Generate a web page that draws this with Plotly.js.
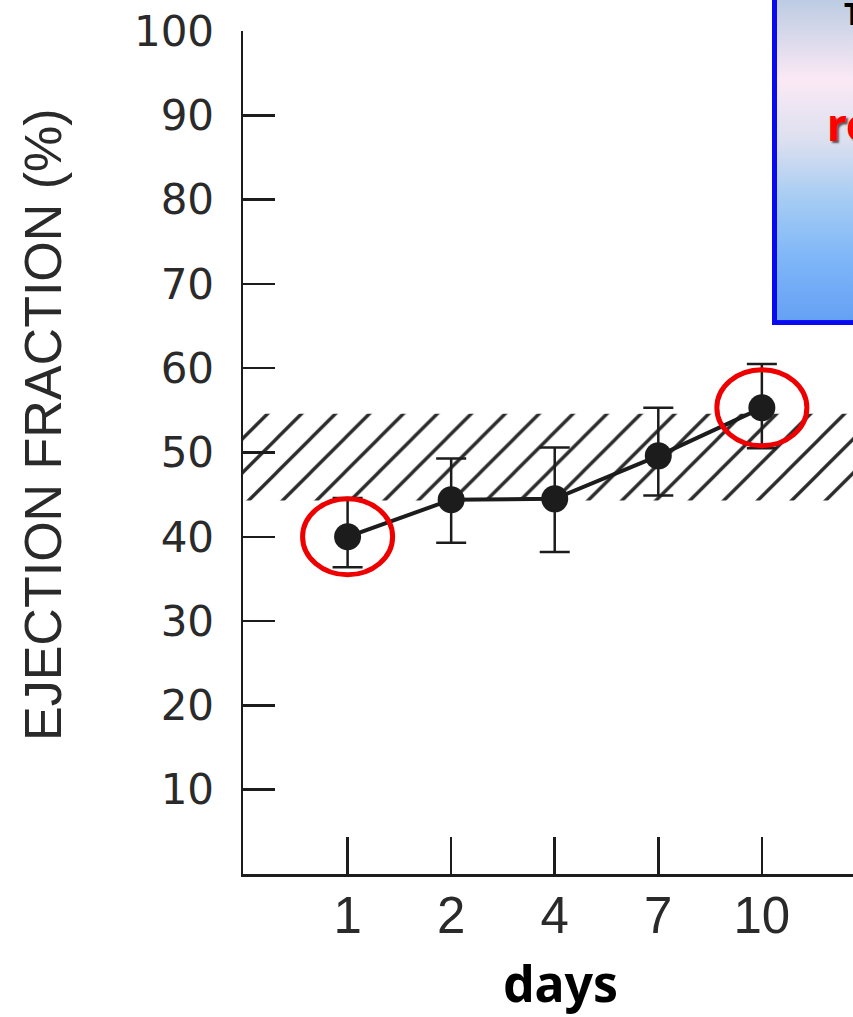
<!DOCTYPE html>
<html>
<head>
<meta charset="utf-8">
<script src="https://cdn.plot.ly/plotly-3.0.1.min.js"></script>
<style>
  html, body { margin: 0; padding: 0; background: #ffffff; }
  #chart { width: 853px; height: 1017px; }
</style>
</head>
<body>
<div id="chart"></div>
<script>
// ---- data ----
const days = ['1', '2', '4', '7', '10'];
const ejectionFraction = [40.0, 44.4, 44.5, 49.6, 55.3];
const errorPlus = [4.6, 4.9, 6.1, 5.7, 5.2];
const errorMinus = [3.6, 5.1, 6.3, 4.7, 4.8];
const normalRange = [44.3, 54.6];
const highlightedDays = ['1', '10'];
const yTickValues = [10, 20, 30, 40, 50, 60, 70, 80, 90, 100];
const yAxisTitle = 'EJECTION FRACTION (%)';
const xAxisTitle = 'days';
const boxTextTop = 'T';
const boxTextRed = 're';

// ---- layout helpers ----
const W = 853, H = 1017;
const M = { l: 243, r: 0, t: 31, b: 143 };
const xRange = [-1.01, 4.88];
const yRange = [0, 100];
const ink = '#1c1c1c';
const plotW = W - M.l - M.r, plotH = H - M.t - M.b;
const px2paperX = px => (px - M.l) / plotW;
const px2paperY = py => (H - M.b - py) / plotH;

const xIdx = days.map((d, i) => i);

const band = {
  x: [xRange[0], xRange[1], xRange[1], xRange[0], xRange[0]],
  y: [normalRange[0], normalRange[0], normalRange[1], normalRange[1], normalRange[0]],
  mode: 'none', type: 'scatter', fill: 'toself',
  fillcolor: 'rgba(255,255,255,0)',
  fillpattern: { shape: '/', size: 24, solidity: 0.14, fgcolor: '#2a2a2a', bgcolor: 'rgba(255,255,255,0)', fgopacity: 1 },
  hoverinfo: 'skip', showlegend: false
};

const series = {
  x: xIdx, y: ejectionFraction, type: 'scatter', mode: 'lines+markers',
  line: { color: ink, width: 4 },
  marker: { color: ink, size: 27 },
  error_y: { type: 'data', symmetric: false, array: errorPlus, arrayminus: errorMinus,
             color: ink, thickness: 2.5, width: 15 },
  cliponaxis: false, showlegend: false
};

const circles = highlightedDays.map(d => {
  const i = days.indexOf(d);
  return {
    type: 'circle', xref: 'x', yref: 'y',
    xsizemode: 'pixel', ysizemode: 'pixel',
    xanchor: xIdx[i], yanchor: ejectionFraction[i],
    x0: -45, x1: 45, y0: -38, y1: 38,
    line: { color: '#ee0000', width: 5 }, layer: 'above'
  };
});

// gradient callout box (partly off the right edge)
const svg = '<svg xmlns="http://www.w3.org/2000/svg" width="120" height="330" viewBox="0 0 120 330" preserveAspectRatio="none">' +
  '<defs><linearGradient id="g" x1="0" y1="0" x2="0" y2="1">' +
  '<stop offset="0" stop-color="#b4c8e0"/>' +
  '<stop offset="0.27" stop-color="#fbe9f5"/>' +
  '<stop offset="0.45" stop-color="#dde0ef"/>' +
  '<stop offset="0.62" stop-color="#a8cdf3"/>' +
  '<stop offset="0.8" stop-color="#80b7f8"/>' +
  '<stop offset="1" stop-color="#64a0f4"/></linearGradient></defs>' +
  '<rect x="2.5" y="-10" width="130" height="337.5" fill="url(#g)" stroke="#0a0af0" stroke-width="5"/></svg>';
const boxX0 = 772, boxY1 = 325;

const layout = {
  width: W, height: H,
  margin: M,
  paper_bgcolor: '#ffffff', plot_bgcolor: '#ffffff',
  showlegend: false,
  xaxis: {
    type: 'linear', range: xRange, tickvals: xIdx, ticktext: days,
    showgrid: false, zeroline: false, showline: true, linecolor: ink, linewidth: 2.5,
    ticks: 'inside', ticklen: 37, tickwidth: 2.5, tickcolor: ink,
    ticklabelstandoff: -5,
    tickfont: { family: 'Liberation Sans, Arial, sans-serif', size: 51, color: '#2a2a2a' }
  },
  yaxis: {
    range: yRange, tickvals: yTickValues,
    showgrid: false, zeroline: false, showline: true, linecolor: ink, linewidth: 2.5,
    ticks: 'inside', ticklen: 32, tickwidth: 2.5, tickcolor: ink,
    ticklabelstandoff: 18,
    tickfont: { family: 'DejaVu Sans, sans-serif', size: 42, color: '#2a2a2a' }
  },
  shapes: circles,
  images: [{
    source: 'data:image/svg+xml;charset=utf-8,' + encodeURIComponent(svg),
    xref: 'paper', yref: 'paper',
    x: px2paperX(boxX0), y: px2paperY(0),
    sizex: 120 / plotW, sizey: boxY1 / plotH,
    xanchor: 'left', yanchor: 'top', sizing: 'stretch', layer: 'above'
  }],
  annotations: [
    { text: yAxisTitle, xref: 'paper', yref: 'paper', x: px2paperX(43), y: px2paperY(425),
      textangle: -90, showarrow: false, xanchor: 'center', yanchor: 'middle',
      font: { family: 'Liberation Sans, Arial, sans-serif', size: 52, color: '#2a2a2a' } },
    { text: '<b>' + xAxisTitle + '</b>', xref: 'paper', yref: 'paper', x: px2paperX(560), y: px2paperY(983),
      showarrow: false, xanchor: 'center', yanchor: 'middle',
      font: { family: 'Noto Sans, sans-serif', size: 50, color: '#000000' } },
    { text: '<b>' + boxTextTop + '</b>', xref: 'paper', yref: 'paper', x: px2paperX(842), y: px2paperY(14),
      showarrow: false, xanchor: 'left', yanchor: 'middle',
      font: { family: 'Noto Sans, sans-serif', size: 30, color: '#000000' } },
    { text: '<b>' + boxTextRed + '</b>', xref: 'paper', yref: 'paper', x: px2paperX(825), y: px2paperY(124),
      showarrow: false, xanchor: 'left', yanchor: 'middle',
      font: { family: 'Noto Sans, sans-serif', size: 44, color: '#ff0000', shadow: '2px 2px 2px #555555' } }
  ]
};

Plotly.newPlot('chart', [band, series], layout, { staticPlot: true, displayModeBar: false });
</script>
</body>
</html>
